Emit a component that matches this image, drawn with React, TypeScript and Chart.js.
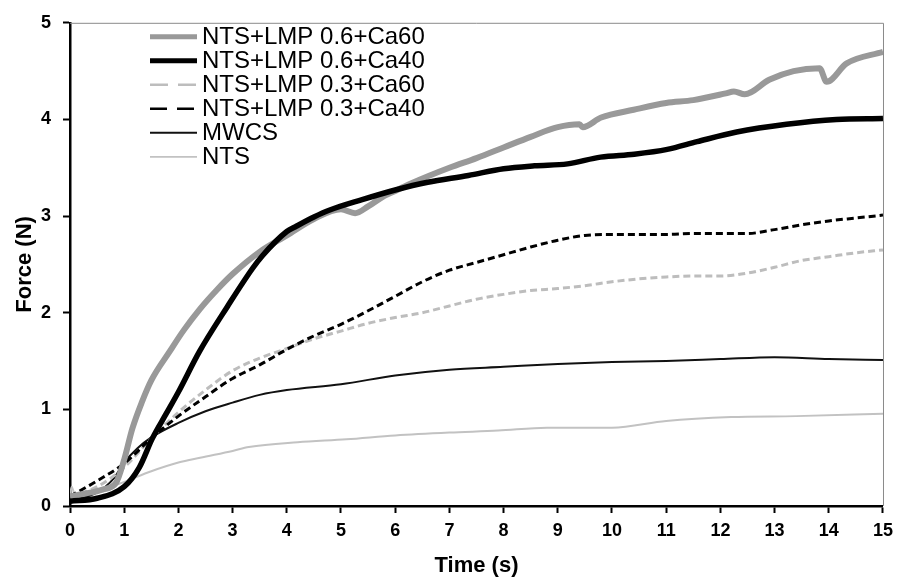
import React, { useEffect, useRef } from "react";
import { Chart, registerables } from "chart.js";

Chart.register(...registerables);

// Time (s) and Force (N) values
const xCa60_06 = [0, 0.3, 0.6, 0.85, 1.0, 1.15, 1.33, 1.5, 1.84, 2.1, 2.4, 2.7, 3.0, 3.5, 4.0, 4.5, 5.0, 5.26, 5.5, 5.8, 6.0, 6.3, 7.0, 7.5, 8.0, 8.5, 9.0, 9.4, 9.46, 9.8, 10.4, 11.0, 11.5, 12.1, 12.25, 12.45, 12.9, 13.35, 13.83, 13.96, 14.33, 15.0];
const yCa60_06 = [0.1, 0.13, 0.17, 0.24, 0.48, 0.8, 1.08, 1.3, 1.6, 1.82, 2.04, 2.23, 2.4, 2.63, 2.8, 2.97, 3.07, 3.03, 3.1, 3.21, 3.26, 3.34, 3.5, 3.6, 3.71, 3.82, 3.92, 3.95, 3.92, 4.02, 4.1, 4.17, 4.2, 4.27, 4.29, 4.26, 4.41, 4.5, 4.53, 4.39, 4.58, 4.7];

const xCa40_06 = [0, 0.5, 1.0, 1.28, 1.52, 1.77, 2.0, 2.39, 2.9, 3.37, 3.55, 4.0, 4.16, 4.5, 4.78, 5.39, 6.0, 6.6, 7.35, 8.0, 8.57, 9.18, 9.79, 10.41, 11.02, 11.57, 12.3, 13.22, 14.14, 15.0];
const yCa40_06 = [0.05, 0.08, 0.2, 0.4, 0.7, 0.95, 1.18, 1.6, 2.06, 2.46, 2.59, 2.84, 2.89, 2.99, 3.06, 3.17, 3.27, 3.35, 3.42, 3.49, 3.52, 3.54, 3.61, 3.64, 3.69, 3.77, 3.87, 3.95, 4.0, 4.01];

const xHalf = [0, 0.5, 1.0, 1.5, 2.0, 2.5, 3.0, 3.5, 4.0, 4.5, 5.0, 5.5, 6.0, 6.5, 7.0, 7.5, 8.0, 8.5, 9.0, 9.5, 10.0, 10.5, 11.0, 11.5, 12.0, 12.5, 13.0, 13.5, 14.0, 14.5, 15.0];
const yCa60_03 = [0.1, 0.2, 0.4, 0.7, 0.97, 1.2, 1.4, 1.53, 1.63, 1.73, 1.81, 1.89, 1.95, 2.0, 2.07, 2.14, 2.19, 2.23, 2.25, 2.28, 2.32, 2.35, 2.37, 2.38, 2.38, 2.41, 2.47, 2.54, 2.58, 2.62, 2.65];
const yCa40_03 = [0.1, 0.26, 0.44, 0.7, 0.93, 1.13, 1.32, 1.46, 1.62, 1.76, 1.88, 2.02, 2.17, 2.32, 2.44, 2.52, 2.6, 2.68, 2.75, 2.8, 2.81, 2.81, 2.81, 2.82, 2.82, 2.82, 2.86, 2.91, 2.95, 2.98, 3.01];

const xMWCS = [0, 0.5, 0.8, 1.0, 1.25, 1.5, 2.0, 2.5, 3.0, 3.5, 4.0, 5.0, 6.0, 7.0, 8.0, 9.0, 10.0, 11.0, 12.0, 13.0, 14.0, 15.0];
const yMWCS = [0.05, 0.14, 0.28, 0.45, 0.6, 0.71, 0.86, 0.98, 1.07, 1.15, 1.2, 1.26, 1.35, 1.41, 1.44, 1.47, 1.49, 1.5, 1.52, 1.54, 1.52, 1.51];

const xNTS = [0, 0.03, 0.1, 0.5, 1.0, 1.5, 2.0, 2.4, 3.0, 3.3, 4.2, 5.1, 6.0, 7.0, 7.9, 8.8, 10.0, 11.0, 12.2, 13.4, 15.0];
const yNTS = [0.1, 0.2, 0.1, 0.15, 0.25, 0.36, 0.45, 0.5, 0.57, 0.61, 0.66, 0.69, 0.73, 0.76, 0.78, 0.81, 0.81, 0.88, 0.92, 0.93, 0.955];

const seriesLabels = [
  "NTS+LMP 0.6+Ca60",
  "NTS+LMP 0.6+Ca40",
  "NTS+LMP 0.3+Ca60",
  "NTS+LMP 0.3+Ca40",
  "MWCS",
  "NTS",
];
const xTickValues = [0, 1, 2, 3, 4, 5, 6, 7, 8, 9, 10, 11, 12, 13, 14, 15];
const yTickValues = [0, 1, 2, 3, 4, 5];

const toPoints = (xs: number[], ys: number[]) => xs.map((x, i) => ({ x, y: ys[i] }));

const FONT = '"Liberation Sans", Arial, Helvetica, sans-serif';

const legendStyles = [
  { width: 5, dash: [] as number[] },
  { width: 5, dash: [] as number[] },
  { width: 2.5, dash: [18, 10] },
  { width: 2.5, dash: [17, 10] },
  { width: 2, dash: [] as number[] },
  { width: 1.8, dash: [] as number[] },
];

const legendPlugin = {
  id: "insideLegend",
  afterDraw(chart: any) {
    const { ctx, chartArea } = chart;
    const x0 = chartArea.left + 80;
    const x1 = x0 + 47;
    const textX = x1 + 5;
    const top = chartArea.top + 14;
    const step = 24;
    ctx.save();
    chart.data.datasets.forEach((ds: any, i: number) => {
      const y = top + i * step;
      const st = legendStyles[i];
      ctx.beginPath();
      ctx.strokeStyle = ds.borderColor;
      ctx.lineWidth = st.width;
      ctx.setLineDash(st.dash);
      ctx.lineCap = "butt";
      ctx.moveTo(x0, y);
      ctx.lineTo(x1, y);
      ctx.stroke();
      ctx.setLineDash([]);
      ctx.fillStyle = "#000";
      ctx.font = `24px ${FONT}`;
      ctx.textBaseline = "middle";
      ctx.textAlign = "left";
      ctx.fillText(ds.label, textX, y + 1);
    });
    ctx.restore();
  },
};

const framePlugin = {
  id: "frame",
  afterDatasetsDraw(chart: any) {
    const { ctx, chartArea } = chart;
    ctx.save();
    ctx.strokeStyle = "#8a8a8a";
    ctx.lineWidth = 1;
    ctx.beginPath();
    ctx.moveTo(chartArea.left, chartArea.top + 0.5);
    ctx.lineTo(chartArea.right + 0.5, chartArea.top + 0.5);
    ctx.lineTo(chartArea.right + 0.5, chartArea.bottom);
    ctx.stroke();
    ctx.restore();
  },
};

export default function App() {
  const canvasRef = useRef<HTMLCanvasElement | null>(null);

  useEffect(() => {
    if (!canvasRef.current) return;
    const chart = new Chart(canvasRef.current, {
      type: "line",
      data: {
        datasets: [
          {
            label: seriesLabels[0],
            data: toPoints(xCa60_06, yCa60_06),
            borderColor: "#999999",
            borderWidth: 6,
            order: 2,
          },
          {
            label: seriesLabels[1],
            data: toPoints(xCa40_06, yCa40_06),
            borderColor: "#000000",
            borderWidth: 5.5,
            order: 1,
          },
          {
            label: seriesLabels[2],
            data: toPoints(xHalf, yCa60_03),
            borderColor: "#bdbdbd",
            borderWidth: 3,
            borderDash: [7, 4],
            order: 4,
          },
          {
            label: seriesLabels[3],
            data: toPoints(xHalf, yCa40_03),
            borderColor: "#000000",
            borderWidth: 3,
            borderDash: [7, 4],
            order: 3,
          },
          {
            label: seriesLabels[4],
            data: toPoints(xMWCS, yMWCS),
            borderColor: "#111111",
            borderWidth: 2,
            order: 5,
          },
          {
            label: seriesLabels[5],
            data: toPoints(xNTS, yNTS),
            borderColor: "#c2c2c2",
            borderWidth: 2,
            order: 6,
          },
        ],
      },
      options: {
        animation: false,
        responsive: false,
        maintainAspectRatio: false,
        devicePixelRatio: 1,
        parsing: false as any,
        elements: {
          point: { radius: 0, hoverRadius: 0 },
          line: { cubicInterpolationMode: "monotone", fill: false, borderCapStyle: "butt" },
        },
        layout: { padding: { top: 18, right: 14, left: 0, bottom: 0 } },
        plugins: {
          legend: { display: false },
          tooltip: { enabled: false },
        },
        scales: {
          x: {
            type: "linear",
            min: 0,
            max: 15,
            afterFit: (scale: any) => {
              scale.height = 73;
            },
            afterBuildTicks: (scale: any) => {
              scale.ticks = xTickValues.map((v) => ({ value: v }));
            },
            ticks: {
              color: "#000",
              padding: 7,
              maxRotation: 0,
              autoSkip: false,
              font: { family: FONT, size: 18, weight: "bold" },
            },
            grid: {
              drawOnChartArea: false,
              drawTicks: true,
              tickLength: 7,
              tickWidth: 2,
              tickColor: "#000",
            },
            border: { display: true, color: "#000", width: 2.5 },
            title: {
              display: true,
              text: "Time (s)",
              color: "#000",
              font: { family: FONT, size: 22, weight: "bold" },
              padding: { top: 0, bottom: 0 },
            },
          },
          y: {
            type: "linear",
            min: 0,
            max: 5,
            afterFit: (scale: any) => {
              scale.width = 70;
            },
            afterBuildTicks: (scale: any) => {
              scale.ticks = yTickValues.map((v) => ({ value: v }));
            },
            ticks: {
              color: "#000",
              padding: 12,
              font: { family: FONT, size: 18, weight: "bold" },
            },
            grid: {
              drawOnChartArea: false,
              drawTicks: true,
              tickLength: 7,
              tickWidth: 2,
              tickColor: "#000",
            },
            border: { display: true, color: "#000", width: 2.5 },
            title: {
              display: true,
              text: "Force (N)",
              color: "#000",
              font: { family: FONT, size: 22, weight: "bold" },
              padding: { top: 12, bottom: 0 },
            },
          },
        },
      },
      plugins: [framePlugin, legendPlugin],
    });
    return () => chart.destroy();
  }, []);

  return (
    <div style={{ position: "fixed", left: 0, top: 0, width: 900, height: 579, background: "#fff" }}>
      <canvas ref={canvasRef} width={900} height={579} style={{ display: "block", width: 900, height: 579 }} />
    </div>
  );
}
